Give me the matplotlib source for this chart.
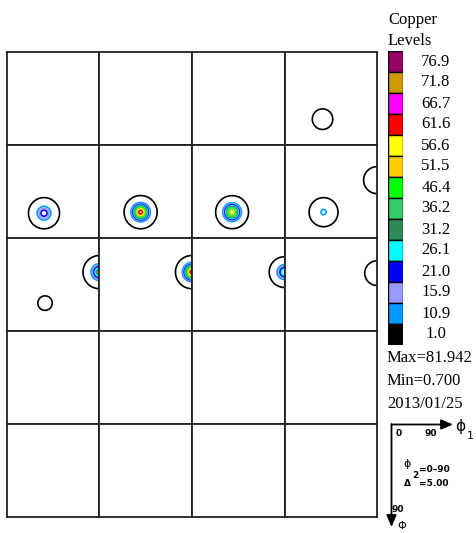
import numpy as np
import matplotlib.pyplot as plt

# contour levels of the ODF and their colours
levels = [1.0, 10.9, 15.9, 21.0, 26.1, 31.2, 36.2, 46.4, 51.5, 56.6, 61.6, 66.7, 71.8, 76.9]
level_colors = ['#000000', '#0099ff', '#9999ff', '#0000ff', '#00ffff', '#2e8b57',
                '#33cc66', '#00ff00', '#ffcc00', '#ffff00', '#ff0000', '#ff00ff',
                '#cc9900', '#990066']

# phi2 sections 0..90, step 5
phi2_sections = list(range(0, 95, 5))

# texture components: section, phi1, Phi, intensity above background, spread (deg)
peak_phi2 = [15, 20, 25, 30, 35, 35, 40, 40, 45, 50, 55]
peak_phi1 = [37, 36, 40, 39, 38, 90, 90, 37, 90, 90, 90]
peak_Phi = [65, 66, 65, 65, 65, 34, 33, 63, 33, 33, 34]
peak_height = [0.8, 24, 65, 55, 11.5, 0.8, 35, 0.8, 65, 30, 0.8]
peak_spread = [7.1, 5.1, 4.9, 4.95, 5.2, 9.3, 5.2, 5.0, 4.9, 4.9, 8.5]
background = 0.7

serif = 'Liberation Serif'

fig = plt.figure(figsize=(4.77, 5.33), dpi=100)
W, H = 477.0, 533.0

g1, gP = np.meshgrid(np.linspace(0, 90, 181), np.linspace(0, 90, 181))


def section_field(p2):
    z = np.full_like(g1, background)
    for s, x0, y0, h, w in zip(peak_phi2, peak_phi1, peak_Phi, peak_height, peak_spread):
        if s == p2:
            z += h * np.exp(-((g1 - x0) ** 2 + (gP - y0) ** 2) / (2 * w ** 2))
    return z


col_edges = [7, 99.5, 192, 284.5, 377]
row_edges = [52, 145, 238, 331, 424, 517]

for k in range(20):
    r, c = divmod(k, 4)
    x0, x1 = col_edges[c], col_edges[c + 1]
    y0, y1 = row_edges[r], row_edges[r + 1]
    ax = fig.add_axes([x0 / W, 1 - y1 / H, (x1 - x0) / W, (y1 - y0) / H])
    ax.set_xlim(0, 90)
    ax.set_ylim(90, 0)
    ax.set_xticks([])
    ax.set_yticks([])
    for sp in ax.spines.values():
        sp.set_linewidth(1.3)
        sp.set_color('#222222')
    if k < len(phi2_sections):
        z = section_field(phi2_sections[k])
        if z.max() > levels[0]:
            ax.contour(g1, gP, z, levels=levels, colors=level_colors, linewidths=1.2)

# colour key
lx0, lx1, ly0, ly1 = 388, 403, 51, 345
lax = fig.add_axes([lx0 / W, 1 - ly1 / H, (lx1 - lx0) / W, (ly1 - ly0) / H])
ypos = np.arange(len(levels))
lax.barh(ypos, 1, height=1, color=level_colors[::-1], edgecolor='black', linewidth=1)
lax.set_xlim(0, 1)
lax.set_ylim(len(levels) - 0.5, -0.5)
lax.axis('off')
for i, v in enumerate(levels[::-1]):
    lax.text(3.2, i, f'{v:.1f}', ha='center', va='center', fontsize=12,
             family=serif, clip_on=False)

# annotation layer in pixel coordinates
ov = fig.add_axes([0, 0, 1, 1])
ov.set_xlim(0, W)
ov.set_ylim(H, 0)
ov.axis('off')
ov.patch.set_alpha(0)

ov.text(388, 20, 'Copper', fontsize=12, family=serif, va='center', ha='left')
ov.text(388, 41, 'Levels', fontsize=12, family=serif, va='center', ha='left')
ov.text(387, 358, 'Max=81.942', fontsize=12, family=serif, va='center', ha='left')
ov.text(387, 381, 'Min=0.700', fontsize=12, family=serif, va='center', ha='left')
ov.text(387, 404, '2013/01/25', fontsize=12, family=serif, va='center', ha='left')

# phi1 / Phi axes key
ov.annotate('', xy=(453, 424.5), xytext=(391.5, 424.5),
            arrowprops=dict(arrowstyle='-|>,head_length=0.7,head_width=0.3',
                            color='black', lw=1.3, shrinkA=0, shrinkB=0))
ov.annotate('', xy=(391.5, 527), xytext=(391.5, 424),
            arrowprops=dict(arrowstyle='-|>,head_length=0.7,head_width=0.3',
                            color='black', lw=1.3, shrinkA=0, shrinkB=0))
small = dict(fontsize=6.5, family='DejaVu Sans', fontweight='bold', va='center')
ov.text(399, 434, '0', ha='center', **small)
ov.text(431, 434, '90', ha='center', **small)
ov.text(398, 510, '90', ha='center', **small)
ov.text(460, 426, '\u0278', fontsize=11, family='DejaVu Sans', ha='center', va='center')
ov.text(467, 436, '1', fontsize=8, ha='left', va='center', family='DejaVu Sans')
ov.text(402, 526, '\u03a6', fontsize=8, family='DejaVu Sans', ha='center', va='center')
ov.text(407, 464, '\u0278', fontsize=8, family='DejaVu Sans', ha='center', va='center')
ov.text(412, 475, '2', ha='left', **small)
ov.text(419, 469, '=0\u201390', ha='left', **small)
ov.text(404, 484, '\u0394', ha='left', **small)
ov.text(419, 484, '=5.00', ha='left', **small)

fig.savefig('out.png', dpi=100)
